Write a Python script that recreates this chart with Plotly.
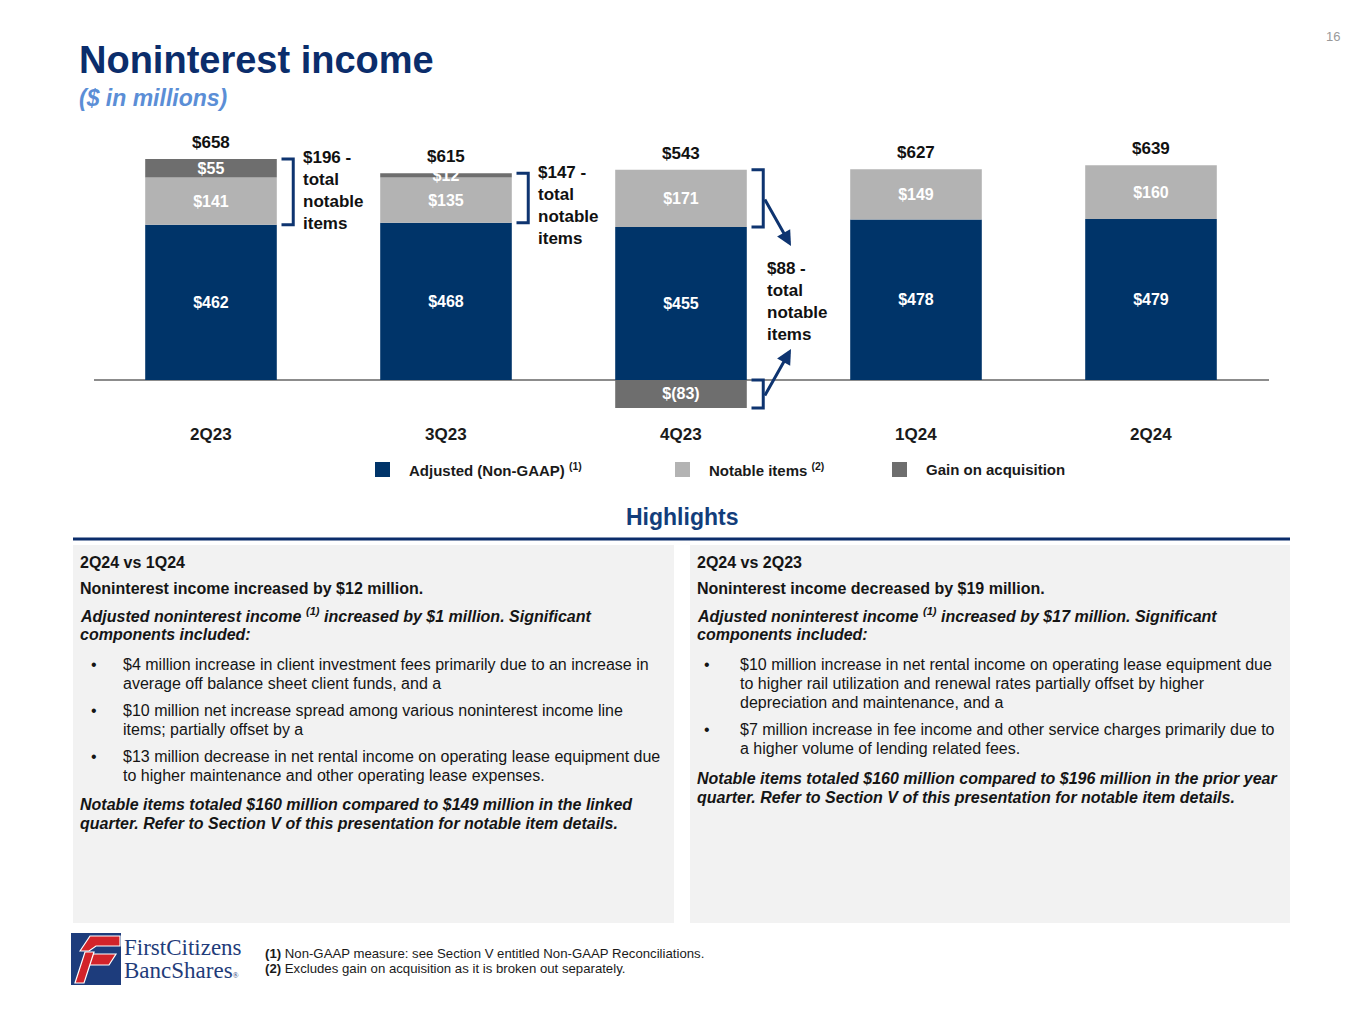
import plotly.graph_objects as go

# ---------------- data ----------------
categories = ["2Q23", "3Q23", "4Q23", "1Q24", "2Q24"]
adjusted = [462, 468, 455, 478, 479]
notable = [141, 135, 171, 149, 160]
gain = [55, 12, -83, None, None]
totals = [658, 615, 543, 627, 639]
notable_totals = [196, 147, 88, None, None]

series_names = ["Adjusted (Non-GAAP) <sup>(1)</sup>", "Notable items <sup>(2)</sup>", "Gain on acquisition"]

left_box = [
    ("h", "2Q24 vs 1Q24"),
    ("b", "Noninterest income increased by $12 million."),
    ("bi", "Adjusted noninterest income <sup>(1)</sup> increased by $1 million. Significant"),
    ("bi", "components included:"),
    ("bul", "$4 million increase in client investment fees primarily due to an increase in"),
    ("cont", "average off balance sheet client funds, and a"),
    ("bul", "$10 million net increase spread among various noninterest income line"),
    ("cont", "items; partially offset by a"),
    ("bul", "$13 million decrease in net rental income on operating lease equipment due"),
    ("cont", "to higher maintenance and other operating lease expenses."),
    ("bi", "Notable items totaled $160 million compared to $149 million in the linked"),
    ("bi", "quarter. Refer to Section V of this presentation for notable item details."),
]
left_y = [562, 588, 615, 634, 664, 683, 710, 729, 756, 775, 804, 823]

right_box = [
    ("h", "2Q24 vs 2Q23"),
    ("b", "Noninterest income decreased by $19 million."),
    ("bi", "Adjusted noninterest income <sup>(1)</sup> increased by $17 million. Significant"),
    ("bi", "components included:"),
    ("bul", "$10 million increase in net rental income on operating lease equipment due"),
    ("cont", "to higher rail utilization and renewal rates partially offset by higher"),
    ("cont", "depreciation and maintenance, and a"),
    ("bul", "$7 million increase in fee income and other service charges primarily due to"),
    ("cont", "a higher volume of lending related fees."),
    ("bi", "Notable items totaled $160 million compared to $196 million in the prior year"),
    ("bi", "quarter. Refer to Section V of this presentation for notable item details."),
]
right_y = [562, 588, 615, 634, 664, 683, 702, 729, 748, 778, 797]

footnotes = [
    "<b>(1)</b> Non-GAAP measure: see Section V entitled Non-GAAP Reconciliations.",
    "<b>(2)</b> Excludes gain on acquisition as it is broken out separately.",
]

# ---------------- style ----------------
OX, OY = 8, 8            # page body margin
W, H = 1365 - OX, 1024 - OY
SANS = "Liberation Sans, Arial, Helvetica, sans-serif"
SERIF = "Liberation Serif, Times New Roman, serif"
NAVY = "#003469"
LGREY = "#B3B3B3"
DGREY = "#6E6E6E"
BRACKET = "#0E3470"
TXT = "#151515"
BOXF = 16


def px(x):
    return (x - OX) / W


def py(y):
    return 1 - (y - OY) / H


def money(v):
    if v is None:
        return ""
    return f"${v}" if v >= 0 else f"$({-v})"


xs = list(range(len(categories)))
fig = go.Figure()
colors = [NAVY, LGREY, DGREY]
for name, vals, col in zip(series_names, [adjusted, notable, gain], colors):
    fig.add_trace(go.Bar(
        x=xs, y=vals, name=name, marker=dict(color=col, line=dict(width=0)),
        width=0.56, text=[money(v) for v in vals], textposition="inside",
        insidetextanchor="middle", constraintext="none",
        textfont=dict(color="white", size=16, family=SANS, weight="bold"),
        showlegend=False, hoverinfo="skip",
    ))

fig.update_layout(
    width=W, height=H, margin=dict(l=0, r=0, t=0, b=0),
    paper_bgcolor="white", plot_bgcolor="white", barmode="relative",
    font=dict(family=SANS, color=TXT),
    xaxis=dict(domain=[px(93.5), px(1268.5)], range=[-0.5, 4.5], showticklabels=False,
               showgrid=False, zeroline=False, showline=False, ticks=""),
    yaxis=dict(domain=[py(430.4), py(144.8)], range=[-150, 700], showticklabels=False,
               showgrid=False, zeroline=True, zerolinecolor="#8C8C8C", zerolinewidth=1.5,
               showline=False, ticks=""),
)

ann = []
shapes = []


def text(x, y, t, size, color=TXT, bold=False, xanchor="left", yanchor="middle",
         family=SANS, xref="paper", yref="paper", yshift=0, align="left"):
    ann.append(dict(x=x, y=y, xref=xref, yref=yref, text=t, showarrow=False,
                    xanchor=xanchor, yanchor=yanchor, yshift=yshift, align=align,
                    font=dict(size=size, color=color, family=family,
                              weight="bold" if bold else "normal")))


# title
text(px(77), py(60), "Noninterest income", 38, "#0B2D6B", True)
text(px(77), py(98), "<i>($ in millions)</i>", 23, "#5B8ED6", True)
text(px(1342), py(37), "16", 13, "#9A9A9A", False, xanchor="right")

# totals and category labels
for i in xs:
    pos_top = adjusted[i] + notable[i] + max(gain[i] or 0, 0)
    text(i, pos_top, money(totals[i]), 17, "#111111", True, xanchor="center",
         yanchor="bottom", xref="x", yref="y", yshift=5)
    text(i, py(435), categories[i], 17, "#1a1a1a", True, xanchor="center", xref="x")

# brackets
for i in xs:
    if notable_totals[i] is None:
        continue
    pos_top = adjusted[i] + notable[i] + max(gain[i] or 0, 0)
    segs = [(pos_top, adjusted[i])]
    if gain[i] is not None and gain[i] < 0:
        segs.append((0, gain[i]))
    for top, bot in segs:
        x0, x1 = i + 0.30, i + 0.35
        shapes.append(dict(type="path", xref="x", yref="y",
                           path=f"M {x0},{top} L {x1},{top} L {x1},{bot} L {x0},{bot}",
                           line=dict(color=BRACKET, width=3)))
    label = f"${notable_totals[i]} -<br>total<br>notable<br>items"
    if len(segs) == 1:
        text(i + 0.385, pos_top + 38, label, 17, "#111111", True,
             yanchor="top", xref="x", yref="y")
    else:
        text(px(765), py(257), label, 17, "#111111", True, yanchor="top")
        for tip, tail in [((791, 246), (764, 198)), ((791, 349), (764, 397))]:
            ann.append(dict(x=px(tip[0]), y=py(tip[1]), xref="paper", yref="paper",
                            ax=tail[0] - tip[0], ay=tail[1] - tip[1], axref="pixel", ayref="pixel",
                            showarrow=True, arrowhead=2, arrowsize=1, arrowwidth=3,
                            arrowcolor=BRACKET, text=""))

# legend
leg_x = [375, 675, 892]
for lx, name, col in zip(leg_x, series_names, colors):
    shapes.append(dict(type="rect", xref="paper", yref="paper", x0=px(lx), x1=px(lx + 15),
                       y0=py(477), y1=py(462), fillcolor=col, line=dict(width=0)))
    text(px(lx + 32), py(469), name, 15, "#1a1a1a", True)

# highlights
text(px(682), py(517), "Highlights", 23, "#123D7B", True, xanchor="center")
shapes.append(dict(type="line", xref="paper", yref="paper", x0=px(73), x1=px(1290),
                   y0=py(539), y1=py(539), line=dict(color="#0B2D6B", width=3)))
for bx0, bx1 in [(73, 674), (690, 1290)]:
    shapes.append(dict(type="rect", xref="paper", yref="paper", x0=px(bx0), x1=px(bx1),
                       y0=py(923), y1=py(545), fillcolor="#F2F2F2", line=dict(width=0),
                       layer="below"))


def box_text(lines, ys, x_text, x_bullet, x_btext):
    for (kind, t), y in zip(lines, ys):
        if kind == "h" or kind == "b":
            text(px(x_text), py(y), t, BOXF, TXT, True)
        elif kind == "bi":
            text(px(x_text), py(y), f"<i>{t}</i>", BOXF, TXT, True)
        elif kind == "bul":
            text(px(x_bullet), py(y), "•", BOXF, TXT, False)
            text(px(x_btext), py(y), t, BOXF, TXT, False)
        else:
            text(px(x_btext), py(y), t, BOXF, TXT, False)


box_text(left_box, left_y, 78, 89, 121)
box_text(right_box, right_y, 695, 702, 738)

# footer logo
shapes.append(dict(type="rect", xref="paper", yref="paper", x0=px(71), x1=px(121),
                   y0=py(985), y1=py(933), fillcolor="#1D3C7C", line=dict(width=0)))
for path in [
    "M 80,951 L 90,936 L 120,936 L 120,946 L 96,946 L 89,951 Z",
    "M 82,965 L 90,954 L 116,954 L 109,965 Z",
    "M 75,983 L 84,983 L 94,952 L 85,952 Z",
]:
    pts = path.replace("M", "").replace("Z", "").split("L")
    conv = []
    for p in pts:
        a, b = p.strip().split(",")
        conv.append(f"{px(float(a)):.5f},{py(float(b)):.5f}")
    shapes.append(dict(type="path", xref="paper", yref="paper",
                       path="M " + " L ".join(conv) + " Z",
                       fillcolor="#D2232A", line=dict(color="white", width=1.2)))
text(px(122), py(947), "FirstCitizens", 23, "#1F3C7A", False, family=SERIF)
text(px(122), py(970), "BancShares<span style='font-size:8px'>®</span>", 23, "#1F3C7A",
     False, family=SERIF)

text(px(263), py(953), footnotes[0], 13.2, "#1a1a1a")
text(px(263), py(968), footnotes[1], 13.2, "#1a1a1a")

fig.update_layout(annotations=ann, shapes=shapes)
fig.write_html("out.html")
